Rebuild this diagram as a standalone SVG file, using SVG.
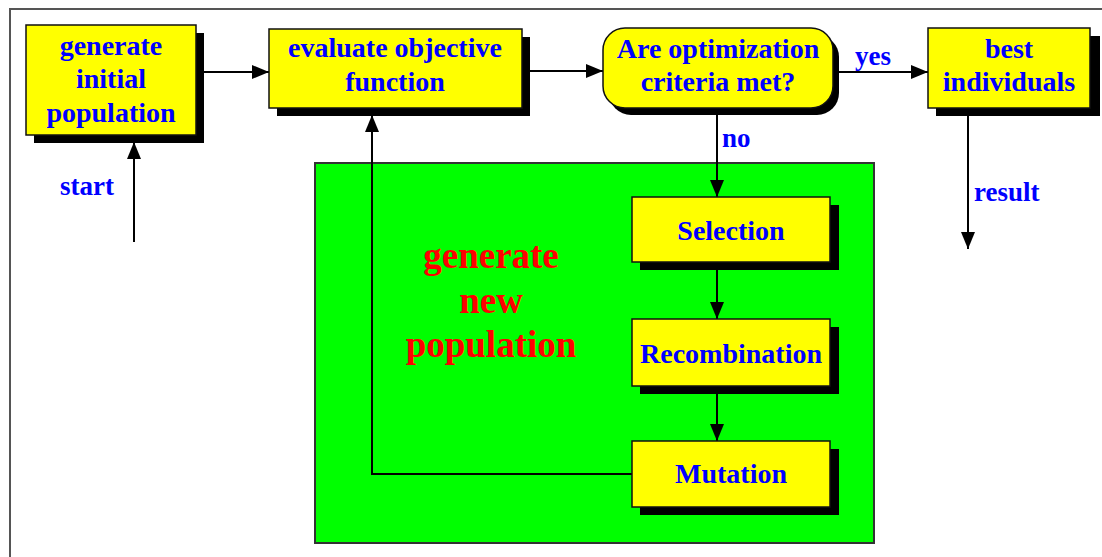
<svg xmlns="http://www.w3.org/2000/svg" width="1102" height="557" viewBox="0 0 1102 557">
<style>
.box{fill:#ffff00;stroke:#111;stroke-width:1.5}
.sh{fill:#000}
.t{font-family:"Liberation Serif",serif;font-weight:bold;font-size:28px;fill:#0000ff;text-anchor:middle}
.lbl{font-family:"Liberation Serif",serif;font-weight:bold;font-size:27px;fill:#0000ff}
.red{font-family:"Liberation Serif",serif;font-weight:bold;font-size:37px;fill:#ff0000;text-anchor:middle}
.ln{fill:none;stroke:#000;stroke-width:2}
</style>
<defs>
<marker id="ah" markerWidth="18" markerHeight="16" refX="17" refY="7" orient="auto" markerUnits="userSpaceOnUse">
<path d="M0,0 L17,7 L0,14 Z" fill="#000"/>
</marker>
</defs>
<rect width="1102" height="557" fill="#fff"/>
<rect x="10" y="9" width="1110" height="570" fill="none" stroke="#555" stroke-width="2"/>
<g id="green-area">
<rect x="315" y="163" width="559" height="380" fill="#00ff00" stroke="#333" stroke-width="2"/>
<text class="red" x="491" y="268">generate</text>
<text class="red" x="491" y="313">new</text>
<text class="red" x="491" y="357">population</text>
</g>
<g id="connectors">
<path class="ln" d="M204,72 L269,72" marker-end="url(#ah)"/>
<path class="ln" d="M530,71 L603,71" marker-end="url(#ah)"/>
<path class="ln" d="M837,72 L928,72" marker-end="url(#ah)"/>
<path class="ln" d="M968,116 L968,249" marker-end="url(#ah)"/>
<path class="ln" d="M134,242 L134,142" marker-end="url(#ah)"/>
<path class="ln" d="M717,115 L717,197" marker-end="url(#ah)"/>
<path class="ln" d="M717,269 L717,319" marker-end="url(#ah)"/>
<path class="ln" d="M717,393 L717,441" marker-end="url(#ah)"/>
<path class="ln" d="M632,474 L372,474 L372,115" marker-end="url(#ah)"/>
<text class="lbl" x="855" y="65">yes</text>
<text class="lbl" x="722" y="147">no</text>
<text class="lbl" x="974" y="201">result</text>
<text class="lbl" x="60" y="195">start</text>
</g>
<g id="node-init">
<rect class="sh" x="34" y="33" width="170" height="110"/>
<rect class="box" x="26" y="25" width="170" height="110"/>
<text class="t" x="111" y="55">generate</text>
<text class="t" x="111" y="88">initial</text>
<text class="t" x="111" y="122">population</text>
</g>
<g id="node-evaluate">
<rect class="sh" x="277" y="37" width="253" height="79"/>
<rect class="box" x="269" y="29" width="253" height="79"/>
<text class="t" x="395" y="57">evaluate objective</text>
<text class="t" x="395" y="91">function</text>
</g>
<g id="node-criteria">
<rect class="sh" x="609" y="35" width="230" height="80" rx="22"/>
<rect class="box" x="603" y="28" width="230" height="80" rx="22"/>
<text class="t" x="718" y="58">Are optimization</text>
<text class="t" x="718" y="91">criteria met?</text>
</g>
<g id="node-best">
<rect class="sh" x="936" y="36" width="164" height="80"/>
<rect class="box" x="928" y="28" width="162" height="80"/>
<text class="t" x="1009" y="58">best</text>
<text class="t" x="1009" y="91">individuals</text>
</g>
<g id="node-selection">
<rect class="sh" x="640" y="205" width="199" height="65"/>
<rect class="box" x="632" y="197" width="198" height="65"/>
<text class="t" x="731" y="240">Selection</text>
</g>
<g id="node-recombination">
<rect class="sh" x="640" y="327" width="199" height="67"/>
<rect class="box" x="632" y="319" width="198" height="67"/>
<text class="t" x="731" y="363">Recombination</text>
</g>
<g id="node-mutation">
<rect class="sh" x="640" y="449" width="199" height="66"/>
<rect class="box" x="632" y="441" width="198" height="66"/>
<text class="t" x="731" y="483">Mutation</text>
</g>
</svg>
